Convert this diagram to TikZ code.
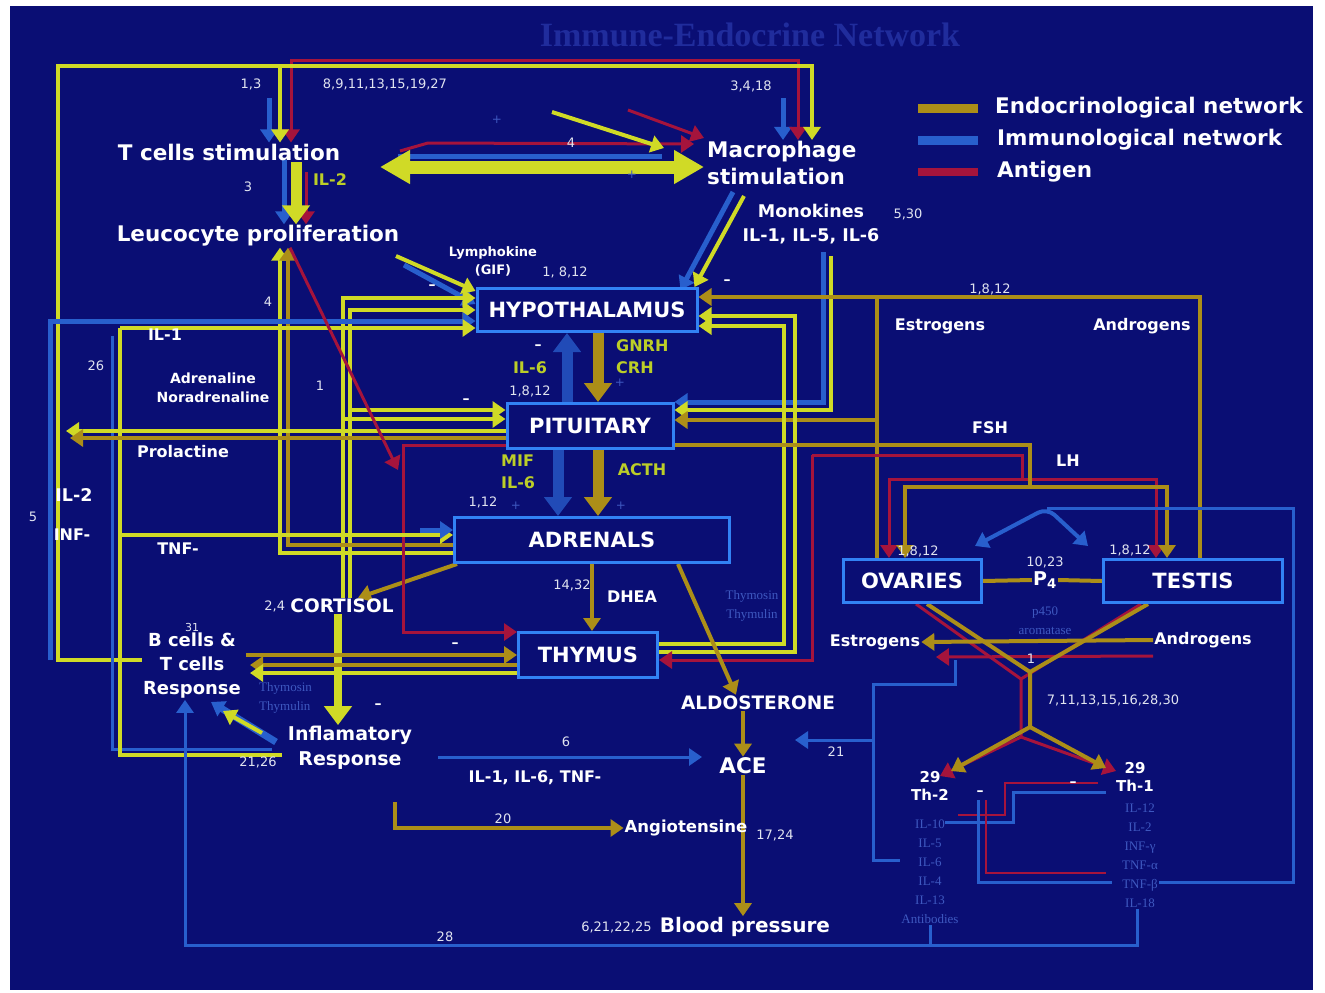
\documentclass[tikz,border=0pt]{standalone}
\usepackage{fontspec}
\setmainfont{DejaVu Sans}
\newfontfamily\serifface{Liberation Serif}
\usepackage{tikz}
\usetikzlibrary{arrows.meta,positioning,calc}
\pgfdeclarelayer{bg}
\pgfdeclarelayer{wires}
\pgfsetlayers{bg,wires,main}
\definecolor{navyBg}{RGB}{10,14,116}
\definecolor{yelGreen}{RGB}{208,218,38}
\definecolor{endoGold}{RGB}{172,142,24}
\definecolor{immBlue}{RGB}{40,95,205}
\definecolor{antRed}{RGB}{165,20,60}
\definecolor{boxBlue}{RGB}{50,130,245}
\definecolor{faintBlue}{RGB}{62,88,192}
\definecolor{titleBlue}{RGB}{32,44,156}
\definecolor{hormGreen}{RGB}{188,206,40}
\definecolor{numGrey}{RGB}{225,228,240}

\begin{document}
\begin{tikzpicture}[x=1pt, y=-1pt,
  organ/.style={draw=boxBlue, line width=3pt, fill=navyBg, text=white,
                font=\bfseries\fontsize{21}{24}\selectfont,
                inner sep=0pt, minimum height=43pt},
  bigLbl/.style={text=white, font=\bfseries\fontsize{21.5}{27}\selectfont, inner sep=1pt},
  medLbl/.style={text=white, font=\bfseries\fontsize{18.5}{24.5}\selectfont, inner sep=1pt},
  smallLbl/.style={text=white, font=\bfseries\fontsize{16}{18}\selectfont, inner sep=1pt},
  tinyLbl/.style={text=white, font=\bfseries\fontsize{14}{19}\selectfont, inner sep=1pt},
  numLbl/.style={text=numGrey, font=\fontsize{13}{14}\selectfont, inner sep=1pt},
  hormLbl/.style={text=hormGreen, font=\bfseries\fontsize{16}{22}\selectfont, inner sep=1pt},
  faintLbl/.style={text=faintBlue, font=\serifface\fontsize{13}{19}\selectfont, inner sep=1pt},
  signLbl/.style={text=white, font=\bfseries\fontsize{14}{14}\selectfont, inner sep=0pt},
  plusLbl/.style={text=faintBlue, font=\fontsize{12}{12}\selectfont, inner sep=0pt},
  endo/.style={draw=endoGold, line width=4pt},
  yel/.style={draw=yelGreen, line width=4pt},
  immu/.style={draw=immBlue, line width=5pt},
  antg/.style={draw=antRed, line width=3pt},
  arr/.style={-{Triangle[length=13pt,width=17pt]}},
  arrs/.style={{Triangle[length=13pt,width=17pt]}-{Triangle[length=13pt,width=17pt]}},
  fat/.style={line width=11pt, -{Triangle[length=19pt,width=27pt]}},
  fats/.style={line width=13pt, {Triangle[length=30pt,width=32pt]}-{Triangle[length=30pt,width=32pt]}}
]
\useasboundingbox (0,0) rectangle (1325,993);

% Title and legend
\node[font=\serifface\bfseries\fontsize{34}{36}\selectfont, text=titleBlue] (title) at (750,35) {Immune-Endocrine Network};
\coordinate (lgA) at (918,108); \coordinate (lgB) at (978,108);
\coordinate (lgC) at (918,140); \coordinate (lgD) at (978,140);
\coordinate (lgE) at (918,172); \coordinate (lgF) at (978,172);
\node[bigLbl, anchor=west] (lgEndo) at ([xshift=16pt]lgB) {Endocrinological network};
\node[bigLbl, anchor=west] (lgImmu) at ([xshift=18pt]lgD) {Immunological network};
\node[bigLbl, anchor=west] (lgAnt) at ([xshift=18pt]lgF) {Antigen};

% Glands
\node[organ, minimum width=220pt] (hyp) at (587,310) {HYPOTHALAMUS};
\node[organ, minimum width=166pt, minimum height=45pt] (pit) at (590,426) {PITUITARY};
\node[organ, minimum width=275pt, minimum height=45pt] (adr) at (592,540) {ADRENALS};
\node[organ, minimum width=139pt, minimum height=45pt] (thy) at (588,655) {THYMUS};
\node[organ, minimum width=138pt] (ova) at (912,581) {OVARIES};
\node[organ, minimum width=179pt] (tes) at (1193,581) {TESTIS};

% Immune cells (top)
\node[bigLbl] (tcs) at (229,152) {T cells stimulation};
\node[bigLbl] (leu) at (258,236) {Leucocyte proliferation};
\node[bigLbl, anchor=west, align=left] (mac) at (706,163) {Macrophage\\stimulation};
\node[text=white, font=\bfseries\fontsize{17.5}{24}\selectfont, align=center] (mono) at (811,224) {Monokines\\IL-1, IL-5, IL-6};
\node[numLbl] (n13) at (251,84) {1,3};
\node[numLbl] (n8to27) at (385,84) {8,9,11,13,15,19,27};
\node[numLbl] (n3418) at (751,86) {3,4,18};
\node[numLbl] (n3) at (248,187) {3};
\node[hormLbl] (il2a) at (330,180) {IL-2};
\node[numLbl] (n4a) at (571,143) {4};
\node[numLbl] (n530) at (908,214) {5,30};
\node[tinyLbl, align=center, font=\bfseries\fontsize{13}{18}\selectfont] (lymph) at (493,261) {Lymphokine\\(GIF)};
\node[numLbl] (n1812a) at (565,272) {1, 8,12};

% Left column
\node[smallLbl] (il1) at (165,335) {IL-1};
\node[numLbl] (n26) at (96,366) {26};
\node[tinyLbl, align=center] (adrn) at (213,388) {Adrenaline\\Noradrenaline};
\node[numLbl] (n1a) at (320,386) {1};
\node[numLbl] (n4b) at (268,302) {4};
\node[smallLbl] (prol) at (183,452) {Prolactine};
\node[smallLbl, font=\bfseries\fontsize{17.5}{18}\selectfont] (il2b) at (74,495) {IL-2};
\node[numLbl] (n5) at (33,517) {5};
\node[smallLbl] (inf) at (72,535) {INF-};
\node[smallLbl] (tnf) at (178,549) {TNF-};

% Axis labels
\node[hormLbl, anchor=west, align=left] (gnrh) at (615,357) {GNRH\\CRH};
\node[hormLbl] (il6a) at (530,368) {IL-6};
\node[numLbl] (n1812b) at (530,391) {1,8,12};
\node[hormLbl, anchor=west, align=left] (mif) at (500,472) {MIF\\IL-6};
\node[hormLbl] (acth) at (642,470) {ACTH};
\node[numLbl] (n112) at (483,502) {1,12};
\node[smallLbl] (dhea) at (632,597) {DHEA};
\node[numLbl, left=14pt of dhea, yshift=12pt] (n1432) {14,32};
\node[faintLbl, align=center] (thymr) at (752,606) {Thymosin\\Thymulin};

% Lower left
\node[medLbl] (cort) at (342,606) {CORTISOL};
\node[numLbl, left=3pt of cort] (n24) {2,4};
\node[medLbl, align=center, font=\bfseries\fontsize{18}{24}\selectfont] (bct) at (192,666) {B cells \&\\T cells\\Response};
\node[numLbl, font=\fontsize{11}{12}\selectfont, above=-1pt of bct] (n31) {31};
\node[faintLbl, align=left, anchor=west] (thyml) at (258,698) {Thymosin\\Thymulin};
\node[medLbl, align=center, font=\bfseries\fontsize{19}{25}\selectfont] (infl) at (350,748) {Inflamatory\\Response};
\node[numLbl] (n2126) at (258,762) {21,26};

% Lower middle
\node[medLbl] (aldo) at (758,703) {ALDOSTERONE};
\node[bigLbl] (ace) at (743,766) {ACE};
\node[numLbl] (n6) at (566,742) {6};
\node[smallLbl] (iltnf) at (535,778) {IL-1, IL-6, TNF-};
\node[numLbl] (n20) at (503,819) {20};
\node[smallLbl, font=\bfseries\fontsize{16.5}{18}\selectfont] (angio) at (686,828) {Angiotensine};
\node[numLbl] (n1724) at (775,835) {17,24};
\node[bigLbl, font=\bfseries\fontsize{20}{24}\selectfont] (bp) at (745,927) {Blood pressure};
\node[numLbl, left=6pt of bp] (n621) {6,21,22,25};
\node[numLbl] (n28) at (445,937) {28};
\node[numLbl] (n21) at (836,752) {21};

% Gonads
\node[numLbl] (n1812c) at (990,289) {1,8,12};
\node[smallLbl] (estra) at (940,326) {Estrogens};
\node[smallLbl] (andra) at (1142,326) {Androgens};
\node[smallLbl] (fsh) at (990,428) {FSH};
\node[smallLbl] (lh) at (1068,461) {LH};
\node[numLbl] (n1812d) at (918,551) {1,8,12};
\node[numLbl] (n1812e) at (1130,550) {1,8,12};
\node[smallLbl, font=\bfseries\fontsize{19}{20}\selectfont] (p4) at (1045,580) {P\textsubscript{4}};
\node[numLbl, above=1pt of p4] (n1023) {10,23};
\node[faintLbl, align=center] (arom) at (1045,621) {p450\\aromatase};
\node[smallLbl] (estrb) at (875,642) {Estrogens};
\node[smallLbl] (andrb) at (1203,640) {Androgens};
\node[numLbl] (n1b) at (1031,659) {1};
\node[numLbl] (n7to30) at (1113,700) {7,11,13,15,16,28,30};
\node[smallLbl, align=center, font=\bfseries\fontsize{15}{18}\selectfont] (th2) at (930,786) {29\\Th-2};
\node[smallLbl, align=center, font=\bfseries\fontsize{15}{18}\selectfont] (th1) at (1135,777) {29\\Th-1};
\node[faintLbl, align=center] (th2list) at (930,872) {IL-10\\IL-5\\IL-6\\IL-4\\IL-13\\Antibodies};
\node[faintLbl, align=center] (th1list) at (1140,856) {IL-12\\IL-2\\INF-γ\\TNF-α\\TNF-β\\IL-18};

% Signs
\node[signLbl] (mA) at (432,287) {--};
\node[signLbl] (mB) at (727,282) {--};
\node[signLbl] (mC) at (538,347) {--};
\node[signLbl] (mD) at (466,401) {--};
\node[signLbl] (mE) at (455,645) {--};
\node[signLbl] (mF) at (378,706) {--};
\node[signLbl] (mG) at (980,793) {--};
\node[signLbl] (mH) at (1073,784) {--};
\node[plusLbl] (pA) at (497,120) {+};
\node[plusLbl] (pB) at (632,175) {+};
\node[plusLbl] (pC) at (620,383) {+};
\node[plusLbl] (pD) at (516,506) {+};
\node[plusLbl] (pE) at (621,506) {+};

\begin{pgfonlayer}{bg}
  \fill[white] (0,0) rectangle (1325,993);
  \fill[navyBg] (10,6) rectangle (1313,990);
\end{pgfonlayer}

\begin{pgfonlayer}{wires}
  % legend keys
  \draw[endo, line width=9pt] (lgA) -- (lgB);
  \draw[immu, line width=9pt] (lgC) -- (lgD);
  \draw[antg, line width=8pt] (lgE) -- (lgF);

  % top frame
  \coordinate (frBL) at (58,660);
  \coordinate (frTL) at (58,66);
  \coordinate (frTR) at (812,66);
  \coordinate (tcIn) at (280,66);
  \coordinate (rdL) at (291,60);
  \coordinate (rdR) at (798,60);
  \coordinate (blA) at (269,98);
  \coordinate (blB) at (783,98);
  \draw[immu, arr] (blA) -- (blA |- tcs.north);
  \draw[immu, arr] (blB) -- (blB |- mac.north);
  \draw[antg, arrs] (rdL |- tcs.north) -- (rdL) -- (rdR) -- (rdR |- mac.north);
  \draw[yel, arr] (frBL -| bct.west) -- (frBL) -- (frTL) -- (frTR) -- (frTR |- mac.north);
  \draw[yel, arr] (tcIn) -- (tcIn |- tcs.north);

  % T cells -> leucocytes (IL-2)
  \coordinate (ilTop) at (296,162);
  \coordinate (ilBl) at (284,160);
  \coordinate (ilRd) at (306,172);
  \draw[immu, arr] (ilBl) -- (ilBl |- leu.north);
  \draw[antg, arr] (ilRd) -- (ilRd |- leu.north);
  \draw[yel, fat] (ilTop) -- (ilTop |- leu.north);

  % T cells <-> macrophages
  \coordinate (dbL) at (380,167); \coordinate (dbR) at (704,167);
  \coordinate (bl4L) at (398,156); \coordinate (bl4R) at (662,156);
  \coordinate (rd4A) at (400,151); \coordinate (rd4B) at (428,143); \coordinate (rd4C) at (694,144);
  \coordinate (yd1) at (552,112); \coordinate (yd2) at (664,148);
  \coordinate (rd5A) at (628,110); \coordinate (rd5B) at (704,138);
  \draw[immu] (bl4L) -- (bl4R);
  \draw[antg, arr] (rd4A) -- (rd4B) -- (rd4C);
  \draw[yel, fats] (dbL) -- (dbR);
  \draw[antg, arr] (rd5A) -- (rd5B);
  \draw[yel, arr] (yd1) -- (yd2);

  % inputs to the hypothalamus from above
  \coordinate (lyA) at (396,256); \coordinate (lyB) at (404,265);
  \coordinate (hypW1) at ([yshift=19pt]hyp.west);
  \coordinate (hypW2) at ([yshift=6pt]hyp.west);
  \draw[immu, arr] (lyB) -- (hypW2);
  \draw[yel, arr] (lyA) -- (hypW1);
  \coordinate (mcA) at (744,196); \coordinate (mcB) at (733,192);
  \draw[immu, arr] (mcB) -- ([xshift=-18pt, yshift=-3pt]hyp.north east);
  \draw[yel, arr] (mcA) -- ([xshift=-4pt]hyp.north east);

  % monokines -> pituitary
  \coordinate (pitE1) at ([yshift=24pt]pit.east);
  \coordinate (pitE2) at ([yshift=16pt]pit.east);
  \coordinate (pitE3) at ([yshift=6pt]pit.east);
  \coordinate (pitE4) at ([yshift=-19pt]pit.east);
  \coordinate (moA) at (823,252); \coordinate (moB) at (831,256);
  \draw[immu, arr] (moA) -- (moA |- pitE1) -- (pitE1);
  \draw[yel, arr] (moB) -- (moB |- pitE2) -- (pitE2);

  % gonadal steroids back to hypothalamus and pituitary
  \coordinate (ovUp) at (877,297); \coordinate (teUp) at (1200,297);
  \draw[endo] (tes.north -| teUp) -- (teUp) -- (ovUp);
  \draw[endo, arr] (ova.north -| ovUp) -- (ovUp) -- (ovUp -| hyp.east);
  \draw[endo, arr] (ovUp |- pitE3) -- (pitE3);

  % thymic loops to hypothalamus
  \coordinate (hypE1) at ([yshift=-6pt]hyp.east);
  \coordinate (hypE2) at ([yshift=-16pt]hyp.east);
  \coordinate (thyE1) at ([yshift=3pt]thy.east);
  \coordinate (thyE2) at ([yshift=11pt]thy.east);
  \coordinate (loopA) at (795,316); \coordinate (loopB) at (784,326);
  \draw[yel, arr] (thyE1) -- (thyE1 -| loopA) -- (loopA) -- (hypE1);
  \draw[yel, arr] (thyE2) -- (thyE2 -| loopB) -- (loopB) -- (hypE2);

  % FSH and LH
  \coordinate (fshA) at (1030,445); \coordinate (fshB) at (1030,487);
  \coordinate (fshL) at (905,487); \coordinate (fshR) at (1167,487);
  \coordinate (lhA) at (812,455); \coordinate (lhB) at (1022,455); \coordinate (lhC) at (1022,479);
  \coordinate (lhL) at (889,479); \coordinate (lhR) at (1156,479);
  \coordinate (thyE3) at ([yshift=-5pt]thy.east);
  \draw[antg] (lhA) -- (lhB) -- (lhC);
  \draw[antg, arrs] (lhL |- ova.north) -- (lhL) -- (lhR) -- (lhR |- tes.north);
  \draw[antg, arr] (lhA) -- (lhA |- thyE3) -- (thyE3);
  \draw[endo] (pitE4) -- (fshA) -- (fshB);
  \draw[endo, arrs] (fshL |- ova.north) -- (fshL) -- (fshR) -- (fshR |- tes.north);

  % HPA axis
  \coordinate (axO) at (598,380); \coordinate (axB) at (567,380); \coordinate (axC) at (558,480);
  \coordinate (dhX) at (592,580);
  \draw[immu, fat, draw=immBlue!75!navyBg] (pit.north -| axB) -- (hyp.south -| axB);
  \draw[endo, fat] (hyp.south -| axO) -- (pit.north -| axO);
  \draw[immu, fat, draw=immBlue!75!navyBg] (pit.south -| axC) -- (adr.north -| axC);
  \draw[endo, fat] (pit.south -| axO) -- (adr.north -| axO);
  \draw[endo, arr] (adr.south -| dhX) -- (thy.north -| dhX);

  % adrenal outputs
  \coordinate (alA) at (678,564);
  \draw[endo, arr] (alA) -- ([xshift=-22pt]aldo.north);
  \draw[endo, arr] (aldo.south -| ace.north) -- (ace.north);
  \draw[endo, arr] (ace.south) -- (ace.south |- bp.north);
  \draw[endo, arr] ([xshift=4pt]adr.south west) -- ([xshift=16pt]cort.north);

  % angiotensine and cytokines
  \coordinate (anA) at (395,802);
  \draw[endo, arr] (anA) -- (anA |- angio.west) -- (angio.west);
  \coordinate (ckA) at (438,757); \coordinate (ckB) at (702,757);
  \draw[immu, line width=3pt, arr] (ckA) -- (ckB);

  % cortisol
  \coordinate (corX) at (338,700);
  \coordinate (cfA) at (343,298); \coordinate (cfB) at (350,310);
  \coordinate (cfC) at (343,419); \coordinate (cfD) at (350,410);
  \coordinate (pitW1) at ([yshift=16pt]pit.west);
  \coordinate (pitW2) at ([yshift=7pt]pit.west);
  \draw[yel, arr] (cort.north -| cfA) -- (cfA) -- (cfA -| hyp.west);
  \draw[yel, arr] (cort.north -| cfB) -- (cfB) -- (cfB -| hyp.west);
  \draw[yel, arr] (cfC) -- (pitW2);
  \draw[yel, arr] (cfD) -- (pitW1);
  \draw[yel, fat, line width=8pt] (cort.south -| corX) -- (infl.north -| corX);

  % adrenal feedback to leucocytes
  \coordinate (lfA) at (280,553); \coordinate (lfB) at (288,545);
  \draw[yel, arr] (lfA -| adr.west) -- (lfA) -- (lfA |- leu.south);
  \draw[endo, arr] (lfB -| adr.west) -- (lfB) -- (lfB |- leu.south);

  % IL-1 and left frame
  \coordinate (il1A) at (120,328);
  \coordinate (lfrB) at (120,755); \coordinate (lfrE) at (282,755);
  \coordinate (blL1) at (50,660); \coordinate (blL2) at (50,321);
  \coordinate (blF1) at (112,336); \coordinate (blF2) at (112,749); \coordinate (blF3) at (272,749);
  \draw[immu, arr] (blL1) -- (blL2) -- (blL2 -| hyp.west);
  \draw[immu, line width=3pt] (blF1) -- (blF2) -- (blF3);
  \draw[yel] (lfrE) -- (lfrB) -- (il1A);
  \draw[yel, arr] (il1A) -- (il1A -| hyp.west);

  % prolactine
  \coordinate (pitW3) at ([yshift=-5pt]pit.west);
  \coordinate (pitW4) at ([yshift=-12pt]pit.west);
  \coordinate (pitW5) at ([yshift=-19pt]pit.west);
  \coordinate (prA) at (66,431); \coordinate (prB) at (70,438);
  \draw[yel, arr] (pitW3) -- (prA);
  \draw[endo, arr] (pitW4) -- (prB);

  % antigen path to thymus
  \coordinate (agA) at (403,445);
  \coordinate (agD) at (398,470);
  \coordinate (thyW1) at ([yshift=23pt]thy.west);
  \draw[antg, arr] (pitW5) -- (agA) -- (agA |- thyW1) -- (thyW1);
  \draw[antg, arr] ([xshift=32pt]leu.south) -- (agD);

  % INF / TNF to adrenals
  \coordinate (infA) at (120,535);
  \coordinate (infB) at (420,530);
  \draw[yel, arr] (infA) -- (infA -| adr.west);
  \draw[immu, arr] (infB) -- (infB -| adr.west);

  % thymus <-> B and T cells
  \coordinate (btA) at (246,655); \coordinate (btB) at (250,665); \coordinate (btC) at (250,673);
  \coordinate (thyW2) at ([yshift=-10pt]thy.west);
  \coordinate (thyW3) at ([yshift=-18pt]thy.west);
  \draw[endo, arr] (btA) -- (thy.west);
  \draw[endo, arr] (thyW2) -- (btB);
  \draw[yel, arr] (thyW3) -- (btC);

  % inflammatory -> B and T cells
  \coordinate (ifA) at (276,742); \coordinate (ifB) at (211,702);
  \coordinate (ifC) at (262,733); \coordinate (ifD) at (223,711);
  \draw[immu, line width=7pt, arr] (ifA) -- (ifB);
  \draw[yel, arr] (ifC) -- (ifD);

  % long immune loop along the bottom
  \coordinate (lpA) at (185,945); \coordinate (lpB) at (1137,945);
  \draw[immu, line width=3pt, arr] (th1list.south -| lpB) -- (lpB) -- (lpA) -- (lpA |- bct.south);
  \draw[immu, line width=3pt] (th2list.south) -- (th2list.south |- lpA);

  % gonads
  \draw[endo] (ova.east) -- (p4.west);
  \draw[endo] (p4.east) -- (tes.west);
  \coordinate (arL) at (975,546); \coordinate (arT) at (1047,508); \coordinate (arR) at (1088,546);
  \coordinate (rtA) at (1293,508); \coordinate (rtB) at (1293,882);
  \draw[immu, line width=4pt, arrs, rounded corners=10pt] (arL) -- (arT) -- (arR);
  \draw[immu, line width=3pt] (arT) -- (rtA) -- (rtB) -- (rtB -| th1list.east);

  % steroid conversion and Th split
  \coordinate (xJ) at (1030,672); \coordinate (xK) at (1030,727);
  \coordinate (rJ) at (1021,679); \coordinate (rK) at (1021,737);
  \coordinate (th2E) at (951,771); \coordinate (th1E) at (1106,768);
  \coordinate (th2R) at (940,776); \coordinate (th1R) at (1116,771);
  \coordinate (esR) at (936,657);
  \draw[antg] ([xshift=4pt]ova.south) -- (rJ) -- (rK);
  \draw[antg] ([xshift=-52pt]tes.south) -- (rJ);
  \draw[antg, arr] (rK) -- (th2R);
  \draw[antg, arr] (rK) -- (th1R);
  \draw[antg, arr] ([yshift=-16pt]andrb.west) -- (esR);
  \draw[endo] ([xshift=15pt]ova.south) -- (xJ) -- (xK);
  \draw[endo] ([xshift=-45pt]tes.south) -- (xJ);
  \draw[endo, arr] (xK) -- (th2E);
  \draw[endo, arr] (xK) -- (th1E);
  \draw[endo, arr] (andrb.west) -- (estrb.east);

  % ovaries to Th-2 and ACE
  \coordinate (obA) at (955,660); \coordinate (obB) at (955,684);
  \coordinate (obC) at (873,684); \coordinate (obD) at (873,860);
  \coordinate (aceR) at (795,740);
  \draw[immu, line width=3pt] (obA) -- (obB) -- (obC) -- (obD) -- (obD -| th2list.west);
  \draw[immu, line width=3pt, arr] (obC |- aceR) -- (aceR);

  % Th-2 / Th-1 cross regulation
  \coordinate (crA) at (958,815); \coordinate (crB) at (1005,815);
  \coordinate (crC) at (1005,783); \coordinate (crD) at (1098,783);
  \coordinate (cbA) at (945,822); \coordinate (cbB) at (1013,822);
  \coordinate (cbC) at (1013,792); \coordinate (cbD) at (1106,792);
  \coordinate (crE) at (986,800); \coordinate (crF) at (986,873); \coordinate (crG) at (1106,873);
  \coordinate (cbE) at (978,800); \coordinate (cbF) at (978,882); \coordinate (cbG) at (1112,882);
  \draw[immu, line width=3pt] (cbA) -- (cbB) -- (cbC) -- (cbD);
  \draw[antg, line width=2pt] (crA) -- (crB) -- (crC) -- (crD);
  \draw[immu, line width=3pt] (cbE) -- (cbF) -- (cbG);
  \draw[antg, line width=2pt] (crE) -- (crF) -- (crG);
\end{pgfonlayer}
\end{tikzpicture}
\end{document}
